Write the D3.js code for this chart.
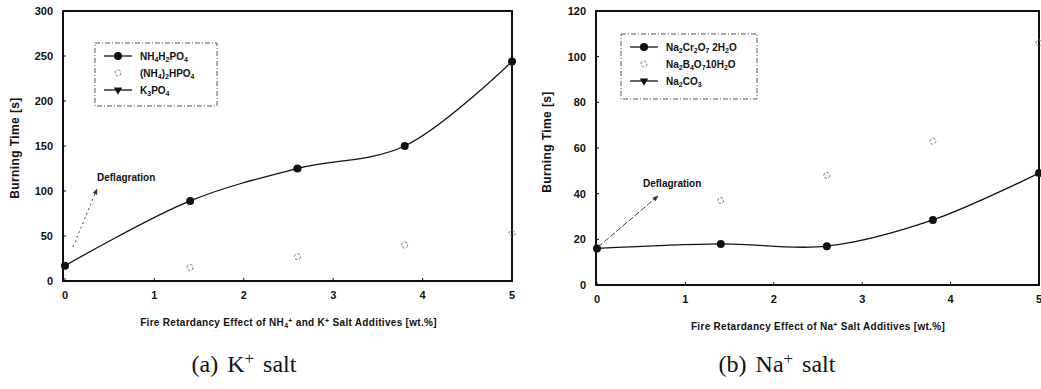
<!DOCTYPE html>
<html>
<head>
<meta charset="utf-8">
<style>
  body { margin: 0; background: #fff; }
  svg { display: block; font-family: "Liberation Sans", Arial, sans-serif; }
  .tick-label { font-size: 11px; font-weight: bold; fill: #111; }
  .axis-title { font-size: 10px; font-weight: bold; fill: #111; }
  .y-title { font-size: 12px; font-weight: bold; fill: #111; }
  .legend-text { font-size: 10px; font-weight: bold; fill: #111; }
  .caption { font-family: "Liberation Serif", "DejaVu Serif", serif; font-size: 24px; fill: #111; word-spacing: 3px; }
</style>
</head>
<body>
<svg id="chart" width="1041" height="389"></svg>
<script src="https://d3js.org/d3.v7.min.js"></script>
<script>
  // x positions of the samples [wt.%]
  const loadings = [0, 1.4, 2.6, 3.8, 5]
  const openLoadings = [1.4, 2.6, 3.8, 5]
  const xTicks = [0, 1, 2, 3, 4, 5]

  // (a) K+ / NH4+ salts, burning time [s]
  const nh4h2po4 = [17, 89, 125, 150, 244]
  const nh42hpo4 = [15, 27, 40, 53]
  const k3po4 = []
  const yTicksA = [0, 50, 100, 150, 200, 250, 300]

  // (b) Na+ salts, burning time [s]
  const na2cr2o7 = [16, 18, 17, 28.5, 49]
  const na2b4o7 = [37, 48, 63, 106]
  const na2co3 = []
  const yTicksB = [0, 20, 40, 60, 80, 100, 120]

  const svg = d3.select('#chart')

  const defs = svg.append('defs')
  defs.append('marker')
    .attr('id', 'arrow')
    .attr('viewBox', '0 0 10 10')
    .attr('refX', 9).attr('refY', 5)
    .attr('markerWidth', 6).attr('markerHeight', 6)
    .attr('orient', 'auto')
    .append('path')
    .attr('d', 'M0,1 L10,5 L0,9 Z')
    .attr('fill', '#333')

  // text with sub/superscripts: parts = [[text, 'sub'|'sup'|null], ...]
  function richText(sel, parts) {
    parts.forEach(([t, kind]) => {
      const ts = sel.append('tspan').text(t)
      if (kind === 'sub') ts.attr('baseline-shift', '-30%').style('font-size', '70%')
      if (kind === 'sup') ts.attr('baseline-shift', '45%').style('font-size', '70%')
    })
  }

  function drawPanel(p) {
    const g = svg.append('g')
    const x = d3.scaleLinear().domain([0, 5]).range(p.xRange)
    const y = d3.scaleLinear().domain(p.yDomain).range(p.yRange)

    // frame
    g.append('rect')
      .attr('x', p.frameLeft).attr('y', p.yRange[1])
      .attr('width', p.xRange[1] - p.frameLeft)
      .attr('height', p.yRange[0] - p.yRange[1])
      .attr('fill', 'none').attr('stroke', '#111').attr('stroke-width', 2)

    // x ticks + labels
    g.selectAll('.xt').data(xTicks).join('line')
      .attr('x1', d => x(d)).attr('x2', d => x(d))
      .attr('y1', p.yRange[0]).attr('y2', p.yRange[0] - 3)
      .attr('stroke', '#111')
    g.selectAll('.xl').data(xTicks).join('text')
      .attr('class', 'tick-label')
      .attr('x', d => x(d)).attr('y', p.yRange[0] + 18)
      .attr('text-anchor', 'middle')
      .text(d => d)

    // y ticks + labels
    g.selectAll('.yt').data(p.yTicks).join('line')
      .attr('x1', p.frameLeft).attr('x2', p.frameLeft + 3)
      .attr('y1', d => y(d)).attr('y2', d => y(d))
      .attr('stroke', '#111')
    g.selectAll('.yl').data(p.yTicks).join('text')
      .attr('class', 'tick-label')
      .attr('x', p.frameLeft - 10).attr('y', d => y(d) + 4)
      .attr('text-anchor', 'end')
      .text(d => d)

    // axis titles
    g.append('text')
      .attr('class', 'y-title')
      .attr('transform', `translate(${p.yTitleX},${p.yTitleY}) rotate(-90)`)
      .attr('text-anchor', 'middle')
      .style('letter-spacing', '0.4px')
      .text('Burning Time [s]')
    const xt = g.append('text')
      .attr('class', 'axis-title')
      .attr('x', (p.xRange[0] + p.xRange[1]) / 2).attr('y', p.yRange[0] + 45)
      .attr('text-anchor', 'middle')
      .style('letter-spacing', '0.3px')
    richText(xt, p.xTitle)

    // caption
    const cap = g.append('text')
      .attr('class', 'caption')
      .attr('x', p.captionX).attr('y', 372)
      .attr('text-anchor', 'middle')
    richText(cap, p.caption)

    // smoothed main series
    const pts = loadings.map((d, i) => [x(d), y(p.main[i])])
    g.append('path')
      .attr('d', d3.line().curve(d3.curveCatmullRom.alpha(0.5))(pts))
      .attr('fill', 'none').attr('stroke', '#111').attr('stroke-width', 1.3)
    g.selectAll('.dot').data(pts).join('circle')
      .attr('cx', d => d[0]).attr('cy', d => d[1]).attr('r', 4)
      .attr('fill', '#111')

    // open circles
    g.selectAll('.open').data(openLoadings.map((d, i) => [x(d), y(p.open[i])])).join('circle')
      .attr('cx', d => d[0]).attr('cy', d => d[1]).attr('r', 3)
      .attr('fill', 'none').attr('stroke', '#777').attr('stroke-width', 1)
      .attr('stroke-dasharray', '3,1.5')

    // third series (no burning data)
    g.selectAll('.tri').data(p.third.map((v, i) => [x(loadings[i]), y(v)])).join('path')
      .attr('transform', d => `translate(${d[0]},${d[1]}) rotate(180)`)
      .attr('d', d3.symbol(d3.symbolTriangle, 30)())
      .attr('fill', '#111')

    // deflagration note
    g.append('line')
      .attr('x1', x(0) + p.arrow[0]).attr('y1', y(0) - p.arrow[1])
      .attr('x2', x(0) + p.arrow[2]).attr('y2', y(0) - p.arrow[3])
      .attr('stroke', '#444').attr('stroke-width', 1)
      .attr('stroke-dasharray', p.arrowDash)
      .attr('marker-end', 'url(#arrow)')
    g.append('text')
      .attr('class', 'legend-text')
      .attr('x', p.noteX).attr('y', p.noteY)
      .text('Deflagration')

    // legend
    const lg = g.append('g').attr('transform', `translate(${p.legend[0]},${p.legend[1]})`)
    lg.append('rect')
      .attr('width', p.legend[2]).attr('height', p.legend[3])
      .attr('fill', 'none').attr('stroke', '#555').attr('stroke-width', 1)
      .attr('stroke-dasharray', '5,2,1,2')
    p.names.forEach((name, i) => {
      const cy = 13 + i * 17
      if (i !== 1) {
        lg.append('line').attr('x1', 9).attr('x2', 37).attr('y1', cy).attr('y2', cy)
          .attr('stroke', '#111').attr('stroke-width', 1.3)
      }
      if (i === 0) lg.append('circle').attr('cx', 23).attr('cy', cy).attr('r', 4).attr('fill', '#111')
      if (i === 1) lg.append('circle').attr('cx', 23).attr('cy', cy).attr('r', 3)
        .attr('fill', 'none').attr('stroke', '#777').attr('stroke-dasharray', '3,1.5')
      if (i === 2) lg.append('path')
        .attr('d', d3.symbol(d3.symbolTriangle, 30)()).attr('transform', `translate(23,${cy}) rotate(180)`)
        .attr('fill', '#111')
      const t = lg.append('text').attr('class', 'legend-text').attr('x', 45).attr('y', cy + 4)
      richText(t, name)
    })
  }

  drawPanel({
    xRange: [65, 512], frameLeft: 63,
    yDomain: [0, 300], yRange: [281, 11], yTicks: yTicksA,
    main: nh4h2po4, open: nh42hpo4, third: k3po4,
    yTitleX: 19, yTitleY: 148,
    xTitle: [['Fire Retardancy Effect of NH'], ['4', 'sub'], ['+', 'sup'], [' and K'], ['+', 'sup'], [' Salt Additives [wt.%]']],
    caption: [['(a)  K'], ['+', 'sup'], ['  salt']], captionX: 244,
    arrow: [8, 34, 32, 92], arrowDash: '2,3',
    noteX: 97, noteY: 181,
    legend: [95, 43, 122, 63],
    names: [
      [['NH'], ['4', 'sub'], ['H'], ['2', 'sub'], ['PO'], ['4', 'sub']],
      [['(NH'], ['4', 'sub'], [')'], ['2', 'sub'], ['HPO'], ['4', 'sub']],
      [['K'], ['3', 'sub'], ['PO'], ['4', 'sub']]
    ]
  })

  drawPanel({
    xRange: [597, 1039], frameLeft: 596,
    yDomain: [0, 120], yRange: [285, 11], yTicks: yTicksB,
    main: na2cr2o7, open: na2b4o7, third: na2co3,
    yTitleX: 551, yTitleY: 142,
    xTitle: [['Fire Retardancy Effect of Na'], ['+', 'sup'], [' Salt Additives [wt.%]']],
    caption: [['(b)  Na'], ['+', 'sup'], ['  salt']], captionX: 777,
    arrow: [1, 38, 61, 89], arrowDash: '6,2',
    noteX: 643, noteY: 187,
    legend: [621, 34, 136, 65],
    names: [
      [['Na'], ['2', 'sub'], ['Cr'], ['2', 'sub'], ['O'], ['7', 'sub'], [' 2H'], ['2', 'sub'], ['O']],
      [['Na'], ['2', 'sub'], ['B'], ['4', 'sub'], ['O'], ['7', 'sub'], ['10H'], ['2', 'sub'], ['O']],
      [['Na'], ['2', 'sub'], ['CO'], ['3', 'sub']]
    ]
  })
</script>
</body>
</html>
